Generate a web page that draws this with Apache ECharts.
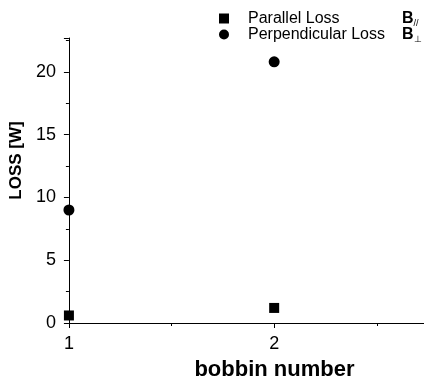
<!DOCTYPE html>
<html><head><meta charset="utf-8">
<script src="https://cdn.jsdelivr.net/npm/echarts@6/dist/echarts.min.js"></script>
<style>html,body{margin:0;padding:0;background:#fff}#c{width:424px;height:386px}</style>
</head><body><div id="c"></div>
<script>
const bobbins = [1, 2];
const parallelLoss = [0.6, 1.2];
const perpendicularLoss = [9.0, 20.8];
const seriesNames = ['Parallel Loss', 'Perpendicular Loss'];
const seriesSubs = ['//', '\u22A5'];
const seriesIcons = ['rect', 'circle'];
const xTicks = [1, 2];
const yTicks = [0, 5, 10, 15, 20];

const chart = echarts.init(document.getElementById('c'));
const font = 'Liberation Sans, Arial, sans-serif';
const legendTops = [4, 20];
const legends = seriesNames.map(function (n, i) {
  return {
    orient: 'vertical', left: 214, top: legendTops[i], itemWidth: 10, itemHeight: 10, itemGap: 0,
    data: [{ name: n, icon: seriesIcons[i], itemStyle: { color: '#000', opacity: 1 } }],
    formatter: function (nm) {
      return '{t|' + nm + '}{b|B}{s|' + seriesSubs[seriesNames.indexOf(nm)] + '}';
    },
    textStyle: {
      fontFamily: font, color: '#000',
      rich: {
        t: { fontSize: 16, width: 154, padding: [0, 0, 0, 14], color: '#000', fontFamily: font, lineHeight: 16 },
        b: { fontSize: 16, fontWeight: 'bold', color: '#000', fontFamily: font, lineHeight: 16 },
        s: { fontSize: 9, color: '#000', fontFamily: font, padding: [10, 0, 0, 0], lineHeight: 6 }
      }
    }
  };
});
chart.setOption({
  animation: false,
  backgroundColor: '#fff',
  textStyle: { fontFamily: font, color: '#000' },
  legend: legends,
  grid: { left: 68, right: 0, top: 38, bottom: 60, containLabel: false },
  xAxis: {
    type: 'value', min: 1, max: 2.73, interval: 1,
    name: 'bobbin number', nameLocation: 'middle', nameGap: 36,
    nameTextStyle: { fontSize: 22, fontWeight: 'bold', color: '#000', fontFamily: font, padding: [0, 0, 0, 56] },
    axisLine: { lineStyle: { color: '#000', width: 1 } },
    axisTick: { show: true, length: 5, lineStyle: { color: '#000' } },
    minorTick: { show: true, splitNumber: 2, length: 3, lineStyle: { color: '#000' } },
    splitLine: { show: false },
    axisLabel: {
      fontSize: 18, color: '#000', margin: 12, showMaxLabel: false,
      formatter: function (v) { return xTicks.indexOf(v) >= 0 ? String(v) : ''; }
    }
  },
  yAxis: {
    type: 'value', min: 0, max: 22.7, interval: 5,
    name: 'LOSS [W]', nameLocation: 'middle', nameGap: 42, nameRotate: 90,
    nameTextStyle: { fontSize: 17, fontWeight: 'bold', color: '#000', fontFamily: font, padding: [0, 0, 0, 40] },
    axisLine: { show: true, lineStyle: { color: '#000', width: 1 } },
    axisTick: { show: true, length: 5, lineStyle: { color: '#000' } },
    minorTick: { show: true, splitNumber: 2, length: 3, lineStyle: { color: '#000' } },
    splitLine: { show: false },
    axisLabel: {
      fontSize: 18, color: '#000', margin: 13, showMaxLabel: false,
      formatter: function (v) { return yTicks.indexOf(v) >= 0 ? String(v) : ''; }
    }
  },
  series: [
    { name: seriesNames[0], type: 'scatter', symbol: 'rect', symbolSize: 10,
      itemStyle: { color: '#000', opacity: 1 }, data: bobbins.map((b, i) => [b, parallelLoss[i]]), clip: false },
    { name: seriesNames[1], type: 'scatter', symbol: 'circle', symbolSize: 11,
      itemStyle: { color: '#000', opacity: 1 }, data: bobbins.map((b, i) => [b, perpendicularLoss[i]]), clip: false }
  ]
});
</script></body></html>
